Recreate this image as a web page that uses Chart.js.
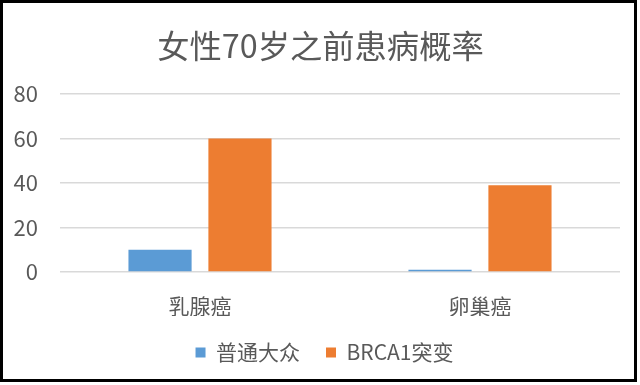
<!DOCTYPE html>
<html><head><meta charset="utf-8">
<script src="https://cdn.jsdelivr.net/npm/chart.js@4"></script>
<style>
html,body{margin:0;padding:0;background:#fff;}
#frame{position:absolute;left:0;top:0;width:631px;height:376px;border:3px solid #000;background:#fff;}
#c{display:block;}
</style></head>
<body>
<div id="frame"><canvas id="c" width="631" height="376"></canvas></div>
<script>
const categories = ['乳腺癌', '卵巢癌'];
const seriesNames = ['普通大众', 'BRCA1突变'];
const generalPublic = [10, 1];
const brca1 = [60, 39];
const yTicks = [0, 20, 40, 60, 80];

const FONT = "'Noto Sans CJK SC', 'Noto Sans', sans-serif";
const TXT = '#595959';
const LEGEND_PAD = 26;
const TITLE_SHIFT = 9;

const blockFix = {
  id: 'blockFix',
  afterLayout(chart) {
    const lg = chart.legend;
    if (lg) { lg.left += LEGEND_PAD / 2; lg.right += LEGEND_PAD / 2; }
    const tb = chart.titleBlock;
    if (tb) { tb.left += TITLE_SHIFT; tb.right += TITLE_SHIFT; }
  }
};

new Chart(document.getElementById('c'), {
  type: 'bar',
  data: {
    labels: categories,
    datasets: [
      { label: seriesNames[0], data: generalPublic, backgroundColor: '#5B9BD5' },
      { label: seriesNames[1], data: brca1, backgroundColor: '#ED7D31' }
    ]
  },
  plugins: [blockFix],
  options: {
    responsive: false,
    animation: false,
    categoryPercentage: 0.571,
    barPercentage: 0.79,
    layout: { padding: { left: 0, right: 14, top: 0, bottom: 6 } },
    plugins: {
      title: {
        display: true, text: '女性70岁之前患病概率', color: TXT,
        font: { family: FONT, size: 32.3, weight: 'normal' },
        padding: { top: 23, bottom: 29.3 }
      },
      legend: {
        position: 'bottom',
        labels: {
          color: TXT, font: { family: FONT, size: 21 },
          boxWidth: 10, boxHeight: 10, padding: LEGEND_PAD
        }
      },
      tooltip: { enabled: false }
    },
    scales: {
      x: {
        grid: { display: false },
        border: { display: false },
        afterFit: s => { s.height = 44; },
        ticks: { color: TXT, font: { family: FONT, size: 21 }, padding: 13 }
      },
      y: {
        min: 0, max: 80,
        afterBuildTicks: s => { s.ticks = yTicks.map(v => ({ value: v })); },
        afterFit: s => { s.width = 57; },
        grid: { color: '#d9d9d9', lineWidth: 1.5, drawTicks: false },
        border: { display: false },
        ticks: { color: TXT, font: { family: FONT, size: 22 }, padding: 22 }
      }
    }
  }
});
</script>
</body></html>
